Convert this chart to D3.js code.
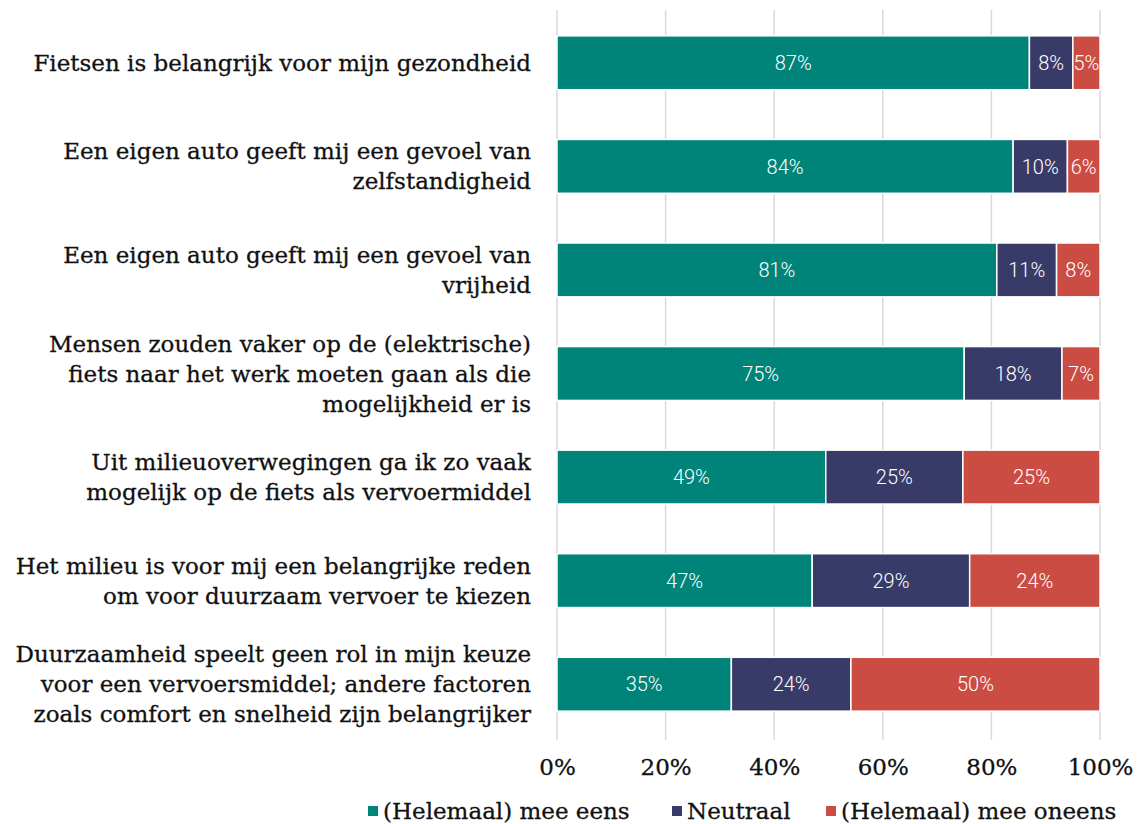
<!DOCTYPE html>
<html><head><meta charset="utf-8">
<script src="https://cdn.jsdelivr.net/npm/d3@7"></script>
<style>body{margin:0;background:#fff}svg{display:block}</style>
</head><body>
<svg id="c" width="1137" height="824"></svg>
<script>
const categories = [
  ["Fietsen is belangrijk voor mijn gezondheid"],
  ["Een eigen auto geeft mij een gevoel van", "zelfstandigheid"],
  ["Een eigen auto geeft mij een gevoel van", "vrijheid"],
  ["Mensen zouden vaker op de (elektrische)", "fiets naar het werk moeten gaan als die", "mogelijkheid er is"],
  ["Uit milieuoverwegingen ga ik zo vaak", "mogelijk op de fiets als vervoermiddel"],
  ["Het milieu is voor mij een belangrijke reden", "om voor duurzaam vervoer te kiezen"],
  ["Duurzaamheid speelt geen rol in mijn keuze", "voor een vervoersmiddel; andere factoren", "zoals comfort en snelheid zijn belangrijker"]
];
const seriesNames = ["(Helemaal) mee eens", "Neutraal", "(Helemaal) mee oneens"];
const eens   = [87, 84, 81, 75, 49, 47, 35];
const neutraal = [8, 10, 11, 18, 25, 29, 24];
const oneens = [5, 6, 8, 7, 25, 24, 50];
const tickValues = [0, 0.2, 0.4, 0.6, 0.8, 1.0];
const colors = ["#00847a", "#383b68", "#cb4c43"];

const svg = d3.select("#c");
const serif = "'DejaVu Serif', serif";
const fs = 23;
const ids = categories.map((d, i) => i);
const x = d3.scaleLinear().domain([0, 1]).range([557, 1100]);
const y = d3.scaleBand().domain(ids).range([11, 736]).paddingInner(0.48).paddingOuter(0.24);

// grid
const grid = svg.append("g");
grid.selectAll("line").data(tickValues).join("line")
  .attr("x1", d => x(d)).attr("x2", d => x(d))
  .attr("y1", 10).attr("y2", 740)
  .attr("stroke", "#d9d9d9").attr("stroke-width", 1.5);

// stacked data normalized
const rows = ids.map(i => {
  const vals = [eens[i], neutraal[i], oneens[i]];
  const tot = d3.sum(vals);
  let acc = 0;
  return vals.map((v, k) => { const s = acc; acc += v; return {i, k, v, x0: s / tot, x1: acc / tot}; });
});
const segs = rows.flat();
const bars = svg.append("g");
bars.selectAll("rect").data(segs).join("rect")
  .attr("x", d => x(d.x0)).attr("width", d => x(d.x1) - x(d.x0))
  .attr("y", d => y(d.i)).attr("height", y.bandwidth())
  .attr("fill", d => colors[d.k]).attr("stroke", "#fff").attr("stroke-width", 1.5);
bars.selectAll("text").data(segs).join("text")
  .attr("x", d => (x(d.x0) + x(d.x1)) / 2).attr("y", d => y(d.i) + y.bandwidth() / 2)
  .attr("dy", "0.36em").attr("text-anchor", "middle")
  .attr("fill", "#fff").attr("font-family", "Roboto, sans-serif").attr("font-weight", 300).attr("font-size", 20)
  .text(d => d.v + "%");

// category labels
const lab = svg.append("g");
lab.selectAll("text").data(ids).join("text")
  .attr("text-anchor", "end").attr("font-family", serif).attr("font-size", fs).attr("fill", "#111")
  .attr("stroke", "#111").attr("stroke-width", 0.3)
  .each(function(i) {
    const lines = categories[i];
    const lh = 30;
    const cy = y(i) + y.bandwidth() / 2;
    const t = d3.select(this);
    lines.forEach((l, j) => {
      t.append("tspan").attr("x", 531).attr("y", cy + (j - (lines.length - 1) / 2) * lh).attr("dy", "0.35em").text(l);
    });
  });

// x axis
const ax = svg.append("g").attr("transform", "translate(0,756)")
  .call(d3.axisBottom(x).tickValues(tickValues).tickFormat(d3.format(".0%")).tickSize(0));
ax.select(".domain").remove();
ax.selectAll("text").attr("font-family", serif).attr("font-size", fs).attr("fill", "#111")
  .attr("stroke", "#111").attr("stroke-width", 0.3);

// legend
const legX = [368, 672, 826];
const leg = svg.append("g");
const li = leg.selectAll("g").data(seriesNames).join("g")
  .attr("transform", (d, k) => `translate(${legX[k]},811)`);
li.append("rect").attr("x", 0).attr("y", -5).attr("width", 10).attr("height", 10).attr("fill", (d, k) => colors[k]);
li.append("text").attr("x", 15).attr("dy", "0.35em").attr("font-family", serif).attr("font-size", fs).attr("fill", "#111")
  .attr("stroke", "#111").attr("stroke-width", 0.3).text(d => d);
</script>
</body></html>
